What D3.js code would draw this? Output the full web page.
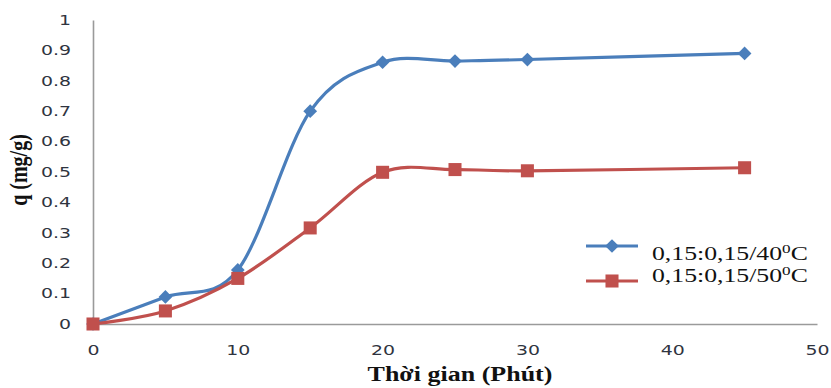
<!DOCTYPE html>
<html><head><meta charset="utf-8">
<script src="https://cdn.jsdelivr.net/npm/d3@7"></script>
<style>body{margin:0;background:#fff}svg{display:block}</style>
</head><body>
<svg id="c" width="831" height="388"></svg>
<script>
const times = [0, 5, 10, 15, 20, 25, 30, 45];
const series40 = [0, 0.089, 0.178, 0.70, 0.861, 0.865, 0.870, 0.890];
const series50 = [0, 0.043, 0.150, 0.316, 0.499, 0.508, 0.504, 0.514];
const xTicks = [0, 10, 20, 30, 40, 50];
const yTicks = [0, 0.1, 0.2, 0.3, 0.4, 0.5, 0.6, 0.7, 0.8, 0.9, 1];
const seriesNames = ["0,15:0,15/40", "0,15:0,15/50"];
const xTitle = "Thời gian (Phút)";
const yTitle = "q (mg/g)";

const svg = d3.select("#c");
const x = d3.scaleLinear().domain([0, 50]).range([93, 817]);
const y = d3.scaleLinear().domain([0, 1]).range([324, 20]);
const axisColor = "#9a9a9a";
const tickFont = "'DejaVu Sans', Verdana, sans-serif";
const serif = "'Liberation Serif', 'Times New Roman', serif";

// horizontal stretch that keeps each text's anchor point in place
function stretch(sel, sx) {
  sel.each(function () {
    const t = d3.select(this);
    const ax = +(t.attr("x") || 0);
    t.attr("transform", `translate(${ax * (1 - sx)},0) scale(${sx},1)`);
  });
}

// axes
const ya = svg.append("g").attr("transform", `translate(${x(0)},0)`)
  .call(d3.axisLeft(y).tickValues(yTicks).tickSize(0).tickPadding(22).tickFormat(d => d === 1 ? "1" : d === 0 ? "0" : d3.format(".1f")(d)));
const xa = svg.append("g").attr("transform", `translate(0,${y(0)})`)
  .call(d3.axisBottom(x).tickValues(xTicks).tickSize(0).tickPadding(21).tickFormat(d3.format("d")));
[ya, xa].forEach(g => {
  g.select(".domain").attr("stroke", axisColor).attr("stroke-width", 1.6);
  g.selectAll("text").attr("font-family", tickFont).attr("font-size", 13.7).attr("fill", "#2f3440");
  stretch(g.selectAll("text"), 1.38);
});

// titles
const xt = svg.append("text").attr("x", 460).attr("y", 381).attr("text-anchor", "middle")
  .attr("font-family", serif).attr("font-weight", "bold").attr("font-size", 20).attr("fill", "#111").text(xTitle);
stretch(xt, 1.3);
svg.append("text").attr("transform", "translate(27,170) scale(1.3,1) rotate(-90)").attr("text-anchor", "middle")
  .attr("font-family", serif).attr("font-weight", "bold").attr("font-size", 20).attr("fill", "#111").text(yTitle);

const colors = ["#4a7ebb", "#c0504d"];
const data = [series40, series50];
const line = d3.line().x((d, i) => x(times[i])).y(d => y(d)).curve(d3.curveCardinal.tension(0));
const diamond = d3.symbol().type(d3.symbolDiamond2).size(120);
const square = d3.symbol().type(d3.symbolSquare).size(170);

data.forEach((s, k) => {
  svg.append("path").attr("d", line(s)).attr("fill", "none").attr("stroke", colors[k]).attr("stroke-width", 3.2);
});
data.forEach((s, k) => {
  svg.selectAll(null).data(s).enter().append("path")
    .attr("transform", (d, i) => `translate(${x(times[i])},${y(d)})`)
    .attr("d", k === 0 ? diamond : square).attr("fill", colors[k]);
});

// legend
const ly = [246, 281];
const ty = [260, 282];
seriesNames.forEach((n, k) => {
  svg.append("line").attr("x1", 586).attr("x2", 638).attr("y1", ly[k]).attr("y2", ly[k])
    .attr("stroke", colors[k]).attr("stroke-width", 3.2);
  svg.append("path").attr("transform", `translate(612,${ly[k]})`).attr("d", k === 0 ? diamond : square).attr("fill", colors[k]);
  const t = svg.append("text").attr("x", 652).attr("y", ty[k]).attr("font-family", serif).attr("font-size", 19.5).attr("fill", "#111");
  t.append("tspan").text(n);
  t.append("tspan").attr("dy", -7).attr("font-size", 13).text("0");
  t.append("tspan").attr("dy", 7).text("C");
  stretch(t, 1.32);
});
</script>
</body></html>
